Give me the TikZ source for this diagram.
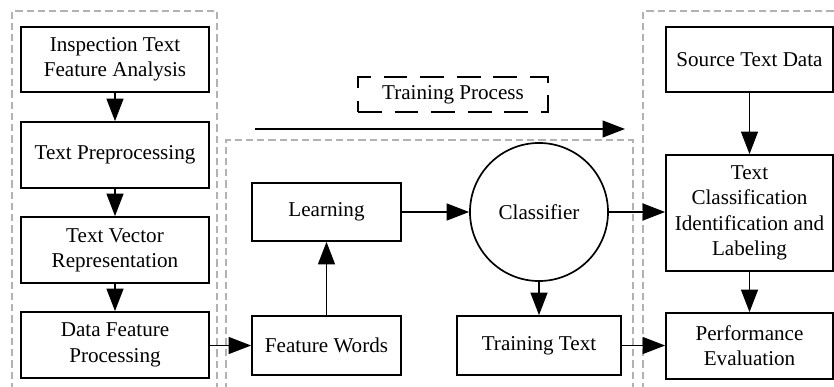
\documentclass[tikz,border=0pt]{standalone}
\usepackage{fontspec}
\setmainfont{Liberation Serif}
\usetikzlibrary{arrows.meta}
\tikzset{
  box/.style={draw, line width=1.2pt, align=center, inner sep=0pt, font=\fontsize{15}{18}\selectfont},
  arr/.style={line width=1.2pt, -{Triangle[length=16pt, width=12pt]}},
  group/.style={draw=gray!60, line width=0.8pt, dash pattern=on 5pt off 3pt},
}
\begin{document}
\begin{tikzpicture}[x=0.025cm, y=-0.025cm]
    \useasboundingbox (0,0) rectangle (834,387);
    % dashed groups
    \draw[group] (12,390) -- (12,11) -- (217,11) -- (217,390);
    \draw[group] (226,390) -- (226,140) -- (633,140) -- (633,390);
    \draw[group] (643,390) -- (643,11) -- (840,11);

    % left column
    \node[box, minimum width=4.7cm, minimum height=1.625cm] (ins) at (115,59.5) {Inspection Text\\Feature Analysis};
    \node[box, minimum width=4.7cm, minimum height=1.65cm] (pre) at (115,155) {Text Preprocessing};
    \node[box, minimum width=4.7cm, minimum height=1.65cm] (vec) at (115,250) {Text Vector\\Representation};
    \node[box, minimum width=4.7cm, minimum height=1.65cm] (dat) at (115,345) {Data Feature\\Processing};
    \foreach \a/\b in {ins/pre, pre/vec, vec/dat}
    {
            \draw[arr] (\a) -- (\b);
    }

    % training
    \node[box, minimum width=3.725cm, minimum height=1.45cm] (learn) at (326.5,212) {Learning};
    \node[box, minimum width=3.725cm, minimum height=1.475cm] (feat) at (326.5,345.5) {Feature Words};
    \node[box, circle, minimum size=3.45cm] (cls) at (539,212) {Classifier};
    \node[box, minimum width=4.1cm, minimum height=1.475cm] (train) at (539,345.5) {Training Text};
    \draw[arr] (dat.east |- feat) -- (feat);
    \draw[arr] (feat) -- (learn);
    \draw[arr] (learn) -- (cls);
    \draw[arr] (cls) -- (train);

    % training process label
    \node[box, dash pattern=on 17pt off 9pt, minimum width=4.75cm, minimum height=0.875cm] (proc) at (453,94.5) {Training Process};
    \coordinate (ps) at (255,129);
    \coordinate (pe) at (625,129);
    \draw[arr] (ps) -- (pe);

    % right column
    \node[box, minimum width=4.175cm, minimum height=1.625cm] (src) at (749.5,59.5) {Source Text Data};
    \node[box, minimum width=4.175cm, minimum height=2.9cm] (lab) at (749.5,213) {Text\\Classification\\Identification and\\Labeling};
    \node[box, minimum width=4.175cm, minimum height=1.65cm] (perf) at (749.5,346) {Performance\\Evaluation};
    \draw[arr] (src) -- (lab);
    \draw[arr] (lab) -- (perf);
    \draw[arr] (cls) -- (cls -| lab.west);
    \draw[arr] (train) -- (train -| perf.west);
\end{tikzpicture}
\end{document}
